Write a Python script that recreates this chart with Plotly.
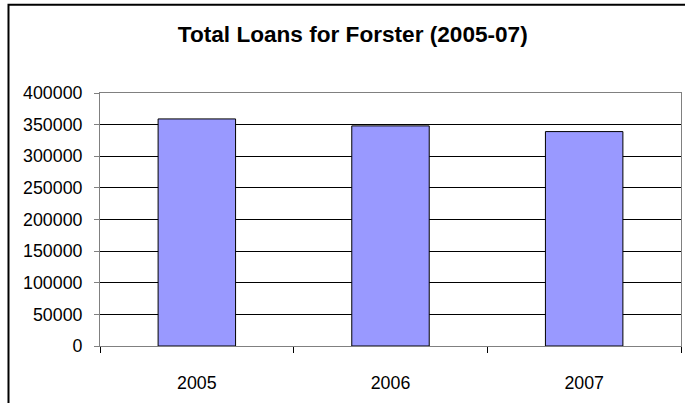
import plotly.graph_objects as go

# Total loans per year
years = ["2005", "2006", "2007"]
loans = [359000, 348000, 339000]
y_ticks = [0, 50000, 100000, 150000, 200000, 250000, 300000, 350000, 400000]

FONT = "Liberation Sans, Arial, sans-serif"

fig = go.Figure(
    go.Bar(
        x=years,
        y=loans,
        marker=dict(color="#9999FF", line=dict(color="#000000", width=1)),
        hoverinfo="x+y",
    )
)

fig.update_layout(
    width=685,
    height=403,
    margin=dict(l=100, r=4, t=93, b=57),
    paper_bgcolor="white",
    plot_bgcolor="white",
    bargap=0.6,
    showlegend=False,
    title=dict(
        text="<b>Total Loans for Forster (2005-07)</b>",
        x=0.515,
        xanchor="center",
        y=0.915,
        yanchor="middle",
        font=dict(family=FONT, size=22.6, color="#000000"),
    ),
    font=dict(family=FONT, size=17.8, color="#000000"),
)

fig.update_xaxes(
    type="category",
    tickson="boundaries",
    ticks="outside",
    ticklen=6,
    tickcolor="#000000",
    ticklabelstandoff=21,
    showline=True,
    linecolor="#808080",
    linewidth=1,
    mirror=True,
    showgrid=False,
    tickfont=dict(family=FONT, size=17.8, color="#000000"),
)

fig.update_yaxes(
    range=[0, 400000],
    tickvals=y_ticks,
    ticktext=[str(v) for v in y_ticks],
    ticks="outside",
    ticklen=5,
    tickcolor="#808080",
    ticklabelstandoff=8,
    showline=True,
    linecolor="#808080",
    linewidth=1,
    mirror=True,
    showgrid=True,
    gridcolor="#000000",
    gridwidth=1,
    zeroline=False,
    tickfont=dict(family=FONT, size=17.8, color="#000000"),
)

# Chart frame around the whole figure area
fig.add_shape(
    type="rect",
    xref="paper",
    yref="paper",
    x0=-0.1575,
    x1=1.2,
    y0=-0.5,
    y1=1.349,
    line=dict(color="#000000", width=2),
    fillcolor="rgba(0,0,0,0)",
    layer="below",
)

fig.write_html("out.html")
